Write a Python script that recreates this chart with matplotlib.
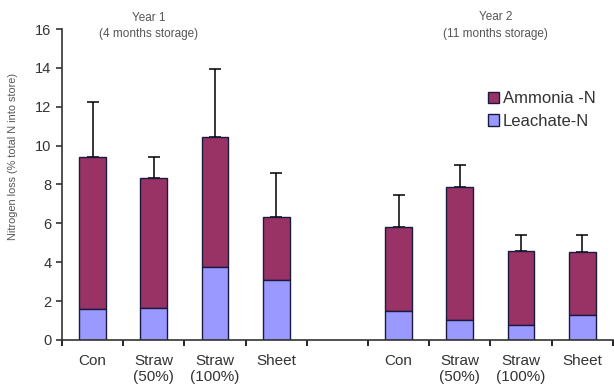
import numpy as np
import matplotlib.pyplot as plt

plt.rcParams['font.family'] = ['Liberation Sans', 'DejaVu Sans']

# data (one empty slot between the two years)
labels = ["Con", "Straw\n(50%)", "Straw\n(100%)", "Sheet", "",
          "Con", "Straw\n(50%)", "Straw\n(100%)", "Sheet"]
leachate = [1.58, 1.63, 3.74, 3.09, 0, 1.46, 1.03, 0.77, 1.29]
total = [9.41, 8.35, 10.46, 6.31, 0, 5.80, 7.85, 4.58, 4.51]
err_top = [12.26, 9.40, 13.96, 8.57, 0, 7.44, 9.00, 5.40, 5.38]

ammonia = [t - l for t, l in zip(total, leachate)]
err = [e - t for e, t in zip(err_top, total)]
keep = [i for i in range(len(labels)) if labels[i] != ""]

fig = plt.figure(figsize=(6.14, 3.92), dpi=100)
ax = fig.add_axes([0.101, 0.133, 0.897, 0.793])

x = np.arange(len(labels))
xk = x[keep]
lk = np.array(leachate)[keep]
ak = np.array(ammonia)[keep]
ek = np.array(err)[keep]

ax.errorbar(xk, lk + ak, yerr=[np.zeros(len(xk)), ek], fmt='none',
            ecolor='black', elinewidth=1.1, capsize=4, capthick=1.1, zorder=1)
b2 = ax.bar(xk, ak, 0.44, bottom=lk, color='#993366', edgecolor='#1a1a40',
            linewidth=1.0, label='Ammonia -N', zorder=2)
b1 = ax.bar(xk, lk, 0.44, color='#9999ff', edgecolor='#1a1a40',
            linewidth=1.0, label='Leachate-N', zorder=2)

ax.set_xlim(-0.5, 8.5)
ax.set_ylim(0, 16)
ax.set_yticks(range(0, 17, 2))
ax.set_xticks(x)
ax.set_xticklabels(labels, fontsize=11, color='#333333')
ax.set_xticks(np.arange(-0.5, 9, 1), minor=True)
ax.tick_params(axis='x', which='major', length=0, pad=10)
ax.tick_params(axis='x', which='minor', length=4, width=1.2, direction='out')
ax.tick_params(axis='y', length=4, width=1.2, labelsize=10.5, colors='#333333')
for s in ['top', 'right']:
    ax.spines[s].set_visible(False)
for s in ['left', 'bottom']:
    ax.spines[s].set_linewidth(1.2)
    ax.spines[s].set_color('#333333')

ax.set_ylabel("Nitrogen loss (% total N into store)", fontsize=7.8, color='#555555')
ax.yaxis.set_label_coords(-0.08, 0.59)

ax.text(0.92, 16.55, "Year 1", ha='center', va='center', fontsize=8.5, color='#555555')
ax.text(0.92, 15.75, "(4 months storage)", ha='center', va='center',
        fontsize=8.5, color='#555555')
ax.text(6.58, 16.6, "Year 2", ha='center', va='center', fontsize=8.5, color='#555555')
ax.text(6.58, 15.75, "(11 months storage)", ha='center', va='center',
        fontsize=8.5, color='#555555')

leg = ax.legend(handles=[b2, b1], loc='upper left', bbox_to_anchor=(0.758, 0.826),
                frameon=False, fontsize=12, handlelength=0.7, handleheight=0.7,
                handletextpad=0.2, labelspacing=0.45, borderpad=0)
for t in leg.get_texts():
    t.set_color('#333333')

fig.savefig("out.png", dpi=100)
